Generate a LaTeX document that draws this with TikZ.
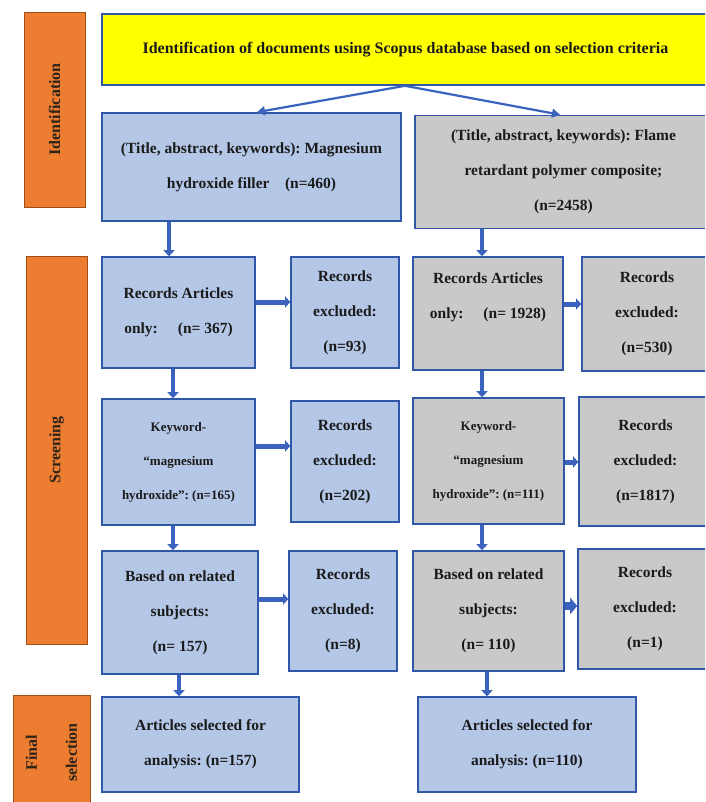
\documentclass[tikz,border=0pt]{standalone}
\usepackage{fontspec}
\setmainfont{Liberation Serif}
\usetikzlibrary{arrows.meta}
\frenchspacing
\definecolor{lblue}{HTML}{B4C7E7}
\definecolor{lgray}{HTML}{C9C9C9}
\definecolor{bordc}{HTML}{3158A8}
\definecolor{arrc}{HTML}{3B63BD}
\definecolor{orng}{HTML}{ED7D31}
\definecolor{orngd}{HTML}{A04E18}
\definecolor{ylw}{HTML}{FFFF00}
\definecolor{txtc}{HTML}{1A1A1A}
\definecolor{lbltxt}{HTML}{2E2318}
\begin{document}
\begin{tikzpicture}[x=1pt,y=-1pt,
 bx/.style={draw=bordc, line width=1.6pt, align=center, inner sep=0pt, text=txtc, font=\bfseries\fontsize{15.5}{35}\selectfont},
 blu/.style={bx, fill=lblue},
 gry/.style={bx, fill=lgray},
 smalltxt/.style={font=\bfseries\fontsize{13}{34}\selectfont},
 stage/.style={draw=orngd, line width=0.8pt, fill=orng, rotate=90, align=center, inner sep=0pt, text=lbltxt, font=\bfseries\fontsize{16}{40}\selectfont},
 varr/.style={draw=arrc, line width=4.5pt, -{Triangle[width=11pt,length=6pt]}},
 harr/.style={draw=arrc, line width=5pt, -{Triangle[width=11pt,length=5pt]}},
 fatarr/.style={draw=arrc, line width=8pt, -{Triangle[width=16pt,length=7pt]}},
 tarr/.style={draw=arrc, line width=2.2pt, -{Triangle[width=9pt,length=8pt]}},
]
\useasboundingbox (0,0) rectangle (705,802);
\clip (0,0) rectangle (705,802);
\fill[white] (0,0) rectangle (705,802);

% stage labels
\node[stage, minimum width=195pt, minimum height=61pt] (OI) at (54.5,109.5) {Identification};
\node[stage, minimum width=388pt, minimum height=61pt] (OS) at (56.5,450) {Screening};
\node[stage, minimum width=115pt, minimum height=77pt] (OF) at (51.5,752.5) {Final\\selection};

% top
\node[bx, fill=ylw, minimum width=607pt, minimum height=71pt, font=\bfseries\fontsize{16}{20}\selectfont] (Y) at (405.5,49.5)
  {Identification of documents using Scopus database based on selection criteria};
\node[blu, minimum width=299pt, minimum height=108pt] (L1) at (251.5,167)
  {(Title, abstract, keywords): Magnesium\\hydroxide filler\quad (n=460)};
\node[gry, minimum width=297pt, minimum height=113pt] (R1) at (563.5,172)
  {(Title, abstract, keywords): Flame\\retardant polymer composite;\\(n=2458)};

% row 1
\node[blu, minimum width=153pt, minimum height=111pt] (LA) at (178.5,312.5)
  {Records Articles\\only:\hspace{20pt}(n= 367)};
\node[blu, minimum width=108pt, minimum height=111pt] (EA) at (345,312.5)
  {Records\\excluded:\\(n=93)};
\node[gry, minimum width=150pt, minimum height=113pt] (GA) at (488,313.5)
  {Records Articles\\only:\hspace{20pt}(n= 1928)\\\mbox{}};
\node[gry, minimum width=130pt, minimum height=114pt] (HA) at (647,314)
  {Records\\excluded:\\(n=530)};

% row 2
\node[blu, smalltxt, minimum width=153pt, minimum height=126pt] (LB) at (178.5,462)
  {Keyword-\\``magnesium\\hydroxide'': (n=165)};
\node[blu, minimum width=108pt, minimum height=121pt] (EB) at (345,461.5)
  {Records\\excluded:\\(n=202)};
\node[gry, smalltxt, minimum width=151pt, minimum height=126pt] (GB) at (488.5,461)
  {Keyword-\\``magnesium\\hydroxide'': (n=111)};
\node[gry, minimum width=133pt, minimum height=129pt] (HB) at (645.5,461.5)
  {Records\\excluded:\\(n=1817)};

% row 3
\node[blu, minimum width=156pt, minimum height=123pt] (LC) at (180,612.5)
  {Based on related\\subjects:\\(n= 157)};
\node[blu, minimum width=108pt, minimum height=120pt] (EC) at (343,611)
  {Records\\excluded:\\(n=8)};
\node[gry, minimum width=151pt, minimum height=120pt] (GC) at (488.5,611)
  {Based on related\\subjects:\\(n= 110)};
\node[gry, minimum width=134pt, minimum height=120pt] (HC) at (645,609)
  {Records\\excluded:\\(n=1)};

% final
\node[blu, minimum width=197pt, minimum height=95pt] (FL) at (200.5,744.5)
  {Articles selected for\\analysis: (n=157)};
\node[blu, minimum width=218pt, minimum height=95pt] (FR) at (527,744.5)
  {Articles selected for\\analysis: (n=110)};

% helper coordinates
\coordinate (ya) at (405,0);
\coordinate (ta) at (257,0);
\coordinate (tb) at (560,0);
\coordinate (vx1) at (169,0);
\coordinate (vx2) at (482,0);
\coordinate (vx3) at (173,0);
\coordinate (vx4) at (179,0);
\coordinate (vx5) at (487,0);
\coordinate (hy1) at (0,302);
\coordinate (hy2) at (0,446);
\coordinate (hy3) at (0,599);
\coordinate (hy4) at (0,304);
\coordinate (hy5) at (0,462);
\coordinate (hy6) at (0,606);

% connectors
\draw[tarr] (Y.south -| ya) -- (L1.north -| ta);
\draw[tarr] (Y.south -| ya) -- (R1.north -| tb);

\draw[varr] (L1.south -| vx1) -- (LA.north -| vx1);
\draw[varr] (R1.south -| vx2) -- (GA.north -| vx2);
\draw[varr] (LA.south -| vx3) -- (LB.north -| vx3);
\draw[varr] (GA.south -| vx2) -- (GB.north -| vx2);
\draw[varr] (LB.south -| vx3) -- (LC.north -| vx3);
\draw[varr] (GB.south -| vx2) -- (GC.north -| vx2);
\draw[varr] (LC.south -| vx4) -- (FL.north -| vx4);
\draw[varr] (GC.south -| vx5) -- (FR.north -| vx5);

\draw[harr] (LA.east |- hy1) -- (EA.west |- hy1);
\draw[harr] (LB.east |- hy2) -- (EB.west |- hy2);
\draw[harr] (LC.east |- hy3) -- (EC.west |- hy3);
\draw[harr] (GA.east |- hy4) -- (HA.west |- hy4);
\draw[harr] (GB.east |- hy5) -- (HB.west |- hy5);
\draw[fatarr] (GC.east |- hy6) -- (HC.west |- hy6);
\end{tikzpicture}
\end{document}
